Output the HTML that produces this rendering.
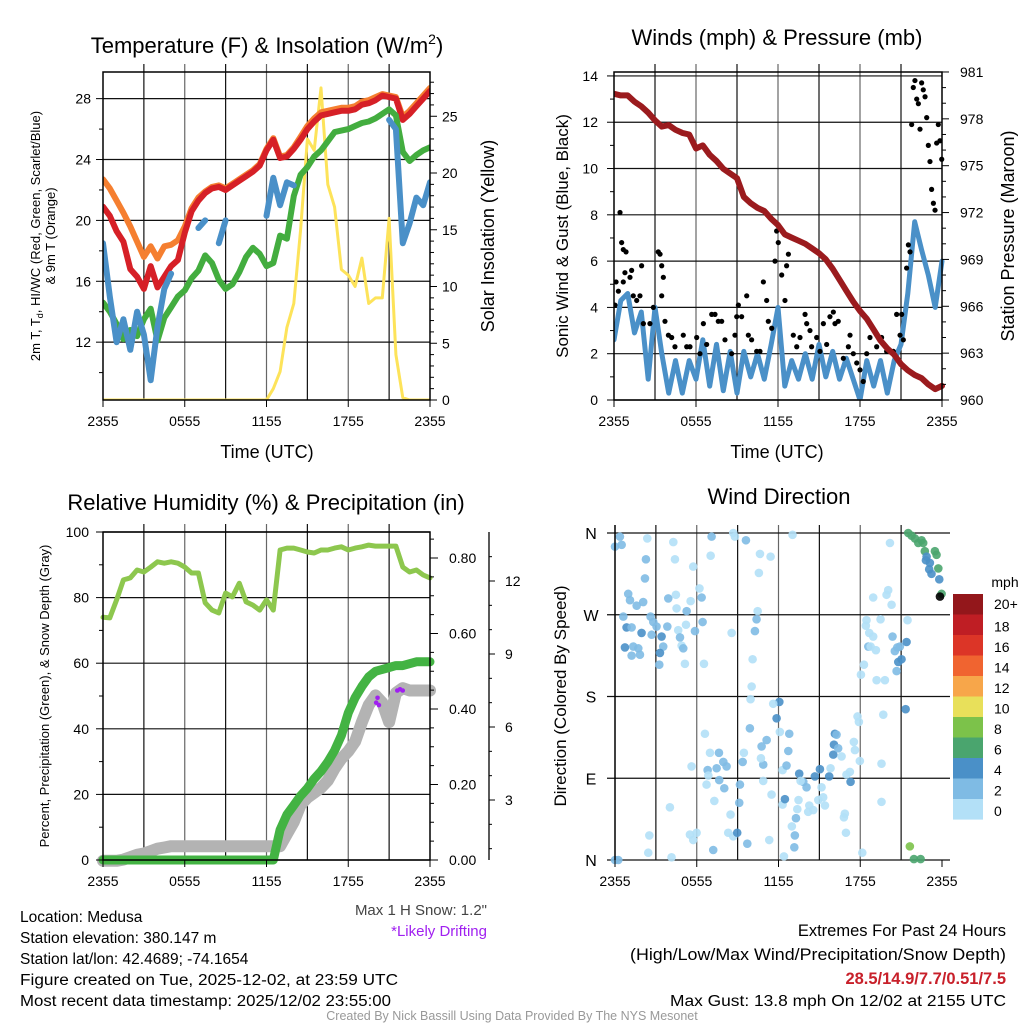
<!DOCTYPE html>
<html><head><meta charset="utf-8"><style>
html,body{margin:0;padding:0;background:#fff;}
svg{display:block;font-family:"Liberation Sans",sans-serif;}
</style></head><body>
<svg id="fig" width="1024" height="1024" viewBox="0 0 1024 1024" xmlns="http://www.w3.org/2000/svg">
<rect width="1024" height="1024" fill="#fff"/>
<g id="layer"></g>
<!-- titles & labels -->
<text x="267" y="53" font-size="22" text-anchor="middle">Temperature (F) &amp; Insolation (W/m<tspan font-size="14" dy="-9">2</tspan><tspan dy="9">)</tspan></text>
<text transform="translate(40,236) rotate(-90)" font-size="13" text-anchor="middle">2m T, T<tspan font-size="9" dy="3">d</tspan><tspan dy="-3">, HI/WC (Red, Green, Scarlet/Blue)</tspan></text>
<text transform="translate(55,236) rotate(-90)" font-size="13" text-anchor="middle">&amp; 9m T (Orange)</text>
<text transform="translate(494,236) rotate(-90)" font-size="18" text-anchor="middle">Solar Insolation (Yellow)</text>
<text x="267" y="458" font-size="18" text-anchor="middle">Time (UTC)</text>
<text x="777" y="45" font-size="22" text-anchor="middle">Winds (mph) &amp; Pressure (mb)</text>
<text transform="translate(568,236) rotate(-90)" font-size="17" text-anchor="middle">Sonic Wind &amp; Gust (Blue, Black)</text>
<text transform="translate(1014,236) rotate(-90)" font-size="18" text-anchor="middle">Station Pressure (Maroon)</text>
<text x="777" y="458" font-size="18" text-anchor="middle">Time (UTC)</text>
<text x="266" y="510" font-size="22" text-anchor="middle">Relative Humidity (%) &amp; Precipitation (in)</text>
<text transform="translate(49,696) rotate(-90)" font-size="13" text-anchor="middle">Percent, Precipitation (Green), &amp; Snow Depth (Gray)</text>
<text x="779" y="504" font-size="22" text-anchor="middle">Wind Direction</text>
<text transform="translate(566,696) rotate(-90)" font-size="17" text-anchor="middle">Direction (Colored By Speed)</text>
<text x="1005" y="587" font-size="14" text-anchor="middle">mph</text>
<text x="487" y="915" font-size="15" text-anchor="end" fill="#444">Max 1 H Snow: 1.2"</text>
<text x="487" y="936" font-size="15" text-anchor="end" fill="#a020f0">*Likely Drifting</text>
<g font-size="15.5">
<text x="20" y="922">Location: Medusa</text>
<text x="20" y="943">Station elevation: 380.147 m</text>
<text x="20" y="964">Station lat/lon: 42.4689; -74.1654</text>
<text x="20" y="985" textLength="378" lengthAdjust="spacingAndGlyphs">Figure created on Tue, 2025-12-02, at 23:59 UTC</text>
<text x="20" y="1006" textLength="371" lengthAdjust="spacingAndGlyphs">Most recent data timestamp: 2025/12/02 23:55:00</text>
</g>
<text x="1006" y="936" font-size="16.5" text-anchor="end">Extremes For Past 24 Hours</text>
<text x="1006" y="960" font-size="16.5" text-anchor="end" textLength="376" lengthAdjust="spacingAndGlyphs">(High/Low/Max Wind/Precipitation/Snow Depth)</text>
<text x="1006" y="984" font-size="16.5" font-weight="bold" fill="#c8202a" text-anchor="end">28.5/14.9/7.7/0.51/7.5</text>
<text x="1006" y="1006" font-size="15.5" text-anchor="end" textLength="336" lengthAdjust="spacingAndGlyphs">Max Gust: 13.8 mph On 12/02 at 2155 UTC</text>
<text x="512" y="1020" font-size="12.5" fill="#999" text-anchor="middle">Created By Nick Bassill Using Data Provided By The NYS Mesonet</text>
</svg>
<script>
// ---------- data (hours since 2355 UTC, 0.5 h step) ----------
const tempRed=[20.9,20.3,19.3,18.6,16.8,16.3,15.5,17.0,15.6,16.3,17.0,17.4,19.2,20.6,21.3,21.8,22.1,22.2,22.0,22.3,22.6,22.9,23.2,23.6,24.6,25.3,24.1,24.2,24.7,25.3,26.0,26.5,26.9,27.0,27.1,27.2,27.2,27.3,27.6,27.7,27.9,28.2,28.1,28.0,26.6,27.0,27.5,28.0,28.5];
const temp9m=[22.7,22.1,21.3,20.5,19.6,18.6,17.6,18.3,17.5,18.3,18.4,18.7,19.6,20.8,21.5,21.9,22.2,22.3,22.1,22.4,22.7,23.0,23.3,23.7,24.7,25.4,24.2,24.3,24.8,25.5,26.2,26.7,27.1,27.2,27.3,27.4,27.4,27.5,27.8,27.9,28.1,28.3,28.2,28.1,26.8,27.2,27.7,28.2,28.7];
const dewpoint=[14.6,14.0,13.2,12.2,12.8,12.4,13.5,14.2,12.1,13.6,14.3,15.0,15.4,16.2,16.7,17.7,17.2,16.1,15.5,15.8,16.6,17.6,18.2,17.8,17.0,17.2,19.0,18.8,21.6,23.0,23.5,24.2,24.6,25.2,25.8,25.9,26.0,26.2,26.4,26.5,26.7,27.0,27.3,26.9,24.5,23.9,24.3,24.6,24.8];
const windChill=[18.5,15.0,12.0,13.5,11.5,14.0,12.5,9.5,13.0,15.5,16.5,null,17.5,null,19.5,20.0,null,18.5,20.0,null,null,null,19.0,null,20.3,22.8,21.0,22.5,22.3,null,null,null,null,25.8,null,null,null,null,null,null,null,null,26.6,26.0,18.5,19.8,21.5,21.0,22.5];
const insolation=[0,0,0,0,0,0,0,0,0,0,0,0,0,0,0,0,0,0,0,0,0,0,0,0,0,1.0,2.5,6.4,8.5,15,23,22,27.5,19,17,11.5,11,10,12.5,8.5,9,9,16,4,0.2,0,0,0,0];
const pressure=[979.6,979.5,979.5,979.1,978.8,978.4,977.9,977.5,977.6,977.3,977.1,977.0,976.1,976.3,975.7,975.3,974.8,974.5,974.2,973.0,972.6,972.3,972.1,971.6,971.2,970.6,970.4,970.2,970.0,969.7,969.4,969.0,968.4,967.7,967.0,966.3,965.7,965.2,964.5,963.8,963.3,962.9,962.3,961.9,961.6,961.4,961.0,960.7,960.9];
const windSpeed=[2.6,4.3,4.6,2.9,3.8,0.9,4.0,2.0,0.3,1.7,0.3,1.7,0.9,2.6,0.6,2.4,0.4,2.1,0.3,2.1,1.0,2.0,0.9,2.4,4.0,0.6,1.7,0.9,2.0,0.9,2.4,1.0,2.1,0.9,1.8,0.9,0,1.7,0.6,1.7,0.3,1.7,2.4,4.6,7.7,6.5,5.4,4.0,6.0];
const gustTime=[0.07,0.15,0.32,0.44,0.56,0.68,0.88,0.68,0.80,1.17,1.29,1.41,1.66,1.90,2.02,2.15,2.63,2.88,3.24,3.37,3.49,3.61,3.49,3.73,3.98,4.22,4.46,5.07,5.32,5.56,6.05,6.29,6.54,6.78,7.15,7.39,7.63,7.88,8.12,8.61,8.85,8.98,9.10,9.34,9.71,9.83,10.07,10.44,10.68,10.93,11.17,11.29,11.54,11.78,11.90,12.02,12.27,12.51,12.63,12.76,13.12,13.37,13.61,13.98,14.10,14.34,14.46,14.83,15.07,15.32,15.56,15.80,16.05,16.17,16.41,16.78,17.15,17.27,17.51,17.76,18.00,18.24,18.49,18.73,19.22,19.58,19.95,20.44,20.68,20.93,21.05,21.17,21.41,21.54,21.66,21.78,21.90,22.02,22.15,22.27,22.39,22.51,22.63,22.76,22.88,23.00,23.12,23.24,23.37,23.49,23.61,23.73,23.85,23.98];
const gustSpeed=[4.1,5.1,4.7,8.1,6.8,6.5,6.4,5.1,5.5,5.3,5.6,4.5,4.3,4.5,5.8,3.3,3.3,4.0,6.4,6.3,5.8,5.3,4.5,3.4,2.8,2.7,2.3,2.8,2.3,2.3,2.7,2.0,3.3,2.4,3.7,3.7,3.4,3.4,2.6,2.0,2.8,3.6,4.1,3.6,4.5,2.8,2.6,2.1,2.1,5.1,4.3,3.4,3.1,6.0,7.3,6.8,5.4,4.3,5.8,6.3,2.8,2.3,2.7,3.7,3.3,3.0,2.3,2.7,2.1,3.3,2.4,3.6,3.8,3.3,3.4,1.8,2.3,2.8,2.0,1.6,1.3,0.8,2.0,2.7,2.3,2.7,2.1,2.1,3.7,2.8,3.7,2.6,5.7,6.7,6.4,11.9,13.5,13.8,13.0,12.8,11.7,13.7,13.4,13.1,12.2,11.0,10.3,9.1,8.5,8.2,11.1,11.9,11.2,10.4];
const relHum=[74,73.8,79.3,85.4,86,88.4,87.8,89.3,90.9,90.5,90.9,90.5,89.3,87.5,87.5,78.4,76.2,75.3,81.4,80.2,84.4,78.7,77.7,76.2,79.3,76.2,94.5,95.1,95.1,94.5,93.9,93.6,94.5,94.5,95.1,95.5,94.5,95.1,95.5,96,95.7,95.7,95.7,95.7,89.3,87.8,88.4,86.9,86];
const precip=[0,0,0,0,0,0,0,0,0,0,0,0,0,0,0,0,0,0,0,0,0,0,0,0,0,0,0.08,0.12,0.145,0.17,0.19,0.215,0.235,0.26,0.29,0.33,0.39,0.43,0.46,0.485,0.50,0.505,0.51,0.515,0.515,0.52,0.525,0.525,0.525];
const snowDepth=[0.5,0.5,0.5,0.55,0.65,0.75,0.8,0.9,1.0,1.05,1.1,1.1,1.1,1.1,1.1,1.1,1.1,1.1,1.1,1.1,1.1,1.1,1.1,1.1,1.1,1.1,1.1,1.6,2.1,2.8,3.1,3.3,3.5,3.8,4.3,4.7,5.0,5.4,6.2,6.9,7.3,7.0,6.2,7.4,7.6,7.5,7.5,7.5,7.5];
const driftTime=[20.05,20.15,20.25,21.6,21.8,22.0];
const driftDepth=[7.0,7.2,6.9,7.5,7.55,7.5];
const dirTime=[0.0,0.36,0.49,0,0.24,2.37,2.27,2.2,0.97,1.1,1.59,2.07,0.61,0.85,1.22,1.95,0.73,1.34,1.71,1.22,1.83,2.61,2.81,3.05,3.42,2.69,3.54,3.3,3.25,3.84,3.91,4.52,4.28,4.4,4.47,4.64,4.77,4.89,5.01,5.21,5.13,5.26,5.55,5.74,5.87,6.2,6.36,6.43,6.53,7.09,7.02,8.68,8.8,8.56,9.61,10.64,11.42,10.56,10.47,10.39,10.27,10.1,10.03,9.95,13.03,12.06,11.86,11.61,12.1,12.79,12.72,11.13,10.76,10.88,9.9,10.71,9.37,9.46,6.6,6.97,7.63,7.95,8.19,7.46,6.8,6.85,5.62,7.65,8.02,6.72,7.29,9.17,9.12,8.48,4.03,2.52,2.44,4.15,5.5,5.74,5.99,8.31,8.68,8.97,9.71,7.21,11.32,12.4,11.49,12.3,12.47,10.88,12.3,12.59,13.52,13.82,14.06,13.62,13.47,13.38,14.26,14.18,13.28,12.98,13.2,13.16,14.67,15.04,15.16,15.28,14.92,14.55,15.41,15.72,15.82,16.02,16.14,16.26,16.07,16.38,16.63,16.99,17.24,17.29,16.87,16.8,16.95,17.53,17.61,17.8,17.9,17.97,18.15,19.56,19.56,19.69,18.05,18.27,18.46,18.41,18.66,18.95,18.59,18.76,19.15,19.2,19.81,19.49,18.95,19.93,20.05,20.3,20.18,20.37,20.54,20.72,20.91,20.79,20.67,21.03,21.4,21.47,21.33,21.64,21.94,22.43,21.52,21.77,22.01,22.26,22.5,22.62,22.74,22.87,22.82,23.11,23.06,23.23,23.48,23.6,23.73,23.8,23.97,23.85];
const dirDeg=[345,356,347,0,0,354,331,310,293,286,280,284,268,256,256,250,234,235,233,225,226,268,262,257,246,248,235,228,215,257,288,277,350,331,292,253,245,236,233,259,216,274,285,323,252,299,289,262,216,356,335,360,356,250,352,337,334,316,274,265,252,221,191,177,358,174,156,172,141,139,120,132,125,105,145,112,108,118,139,118,118,108,103,101,99,93,103,88,79,83,65,83,63,50,58,27,8,3,28,22,30,30,26,30,18,11,22,4,72,61,67,87,99,104,95,86,80,87,66,56,60,53,46,37,27,14,92,100,80,69,66,55,60,92,101,116,139,138,127,123,114,94,97,86,51,47,30,130,121,158,152,109,8,106,64,160,204,215,264,258,250,246,235,235,231,198,198,265,289,292,297,281,349,246,230,234,235,218,208,221,240,264,166,15,1,1,360,357,354,349,352,349,340,334,330,327,320,315,340,336,321,309,293,290];
const dirSpeed=[3,3,2.5,2.5,2,1,3,3,3,2.5,2.5,3,2.5,4,2.5,4.5,4,3,3,2.5,2.5,2.5,3,2.5,4.5,2.5,3,4.5,3,3,3,1,1,1,1,1,3,1.5,2.5,1,1,3,1,1,3,1,2.5,3,1,2.5,1,1,1,1,3,1,1,1,1,3,3,1,1,1,1,4.5,5,1,1,3,3,3,3,3,3,1,3,1,1,1,3.5,3,3,3,3.5,1,1,3,3,1,1,3.5,3.5,1,1,1,1,1,1,1,1,1,1,4,3,3,1,1,1,1,4,1,1,3,4,3,3,1,1,1,1,1,3.5,1,3,3,4,4,1,1,1,1,1,4,1,4,4.5,3,4,3,1,1,1,4.5,1,1,1,1,1,1,1,1,1,1,1,1,1,1,1,1,1,1,3.5,1,1,1,1,1,1,1,1,1,1,3,3,3,3,4,3,4,4,1,4,8,6,6,6,7,7,7,7,6,6,4,4,4,4,4,6,6,6,4,6];
const cbLabels=["20+","18","16","14","12","10","8","6","4","2","0"];
const cbColors=["#93171b","#bf1e24","#dc3527","#f06430","#f7a64a","#e8e05a","#7cc24a","#4aa56e","#4a90c8","#7fbbe4","#b3e0f7"];
const xTickLabels=["2355","0555","1155","1755","2355"];
const tempTicks=[12,16,20,24,28];
const insoTicks=[0,5,10,15,20,25];
const windTicks=[0,2,4,6,8,10,12,14];
const presTicks=[960,963,966,969,972,975,978,981];
const rhTicks=[0,20,40,60,80,100];
const precTicks=[0,0.2,0.4,0.6,0.8];
const snowTicks=[3,6,9,12];
const dirLabels=["N","E","S","W","N"];

const NS="http://www.w3.org/2000/svg";
const layer=document.getElementById('layer');
function mk(tag,attrs,parent){const e=document.createElementNS(NS,tag);for(const k in attrs)e.setAttribute(k,attrs[k]);(parent||layer).appendChild(e);return e;}
function lin(d0,d1,r0,r1){return v=>r0+(v-d0)/(d1-d0)*(r1-r0);}
function pathOf(ts,vs,sx,sy){let d="",pen=false;for(let i=0;i<vs.length;i++){if(vs[i]===null){pen=false;continue;}d+=(pen?"L":"M")+sx(ts[i]).toFixed(1)+","+sy(vs[i]).toFixed(1);pen=true;}return d;}
const half=[];for(let i=0;i<49;i++)half.push(i*0.5);

function panelFrame(name,L,R,T,B,nv){
  const g=mk('g',{});
  
  
  for(let i=1;i<nv;i++){const x=L+(R-L)*i/nv;mk('line',{x1:x,x2:x,y1:T-8,y2:B,stroke:(i%2?'#111':'#666'),'stroke-width':1.2},g);}
  return g;
}
function hgrid(g,L,R,y){mk('line',{x1:L,x2:R,y1:y,y2:y,stroke:'#111','stroke-width':1.2},g);}
function box(name,L,R,T,B){const r=mk('rect',{x:L,y:T,width:R-L,height:B-T,fill:'none',stroke:'#000','stroke-width':1.5});}
function xticks(name,L,R,B){const g=mk('g',{'font-size':14,'text-anchor':'middle'});
  for(let i=0;i<xTickLabels.length;i++){const x=L+(R-L)*i/4;mk('line',{x1:x,x2:x,y1:B,y2:B+7,stroke:'#000'},g);const t=mk('text',{x:x,y:B+26},g);t.textContent=xTickLabels[i];}}

// ---------- Panel 1: temperature ----------
{
const L=103,R=430,T=72,B=400;
const sx=lin(0,24,L,R), sy=lin(8.2,29.75,B,T), si=lin(0,28.9,B,T);
const g=panelFrame('temperature',L,R,T,B,8);
tempTicks.forEach(v=>hgrid(g,L,R,sy(v)));
const cl=mk('clipPath',{id:'c1'});mk('rect',{x:L,y:T,width:R-L,height:B-T},cl);
const pl=mk('g',{'clip-path':'url(#c1)',fill:'none','stroke-linejoin':'round','stroke-linecap':'round'});
let p;
p=mk('path',{d:pathOf(half,insolation,sx,si),stroke:'#fde35a','stroke-width':3},pl);


p=mk('path',{d:pathOf(half,temp9m,sx,sy),stroke:'#f57f30','stroke-width':6},pl);


p=mk('path',{d:pathOf(half,tempRed,sx,sy),stroke:'#d62027','stroke-width':6},pl);


p=mk('path',{d:pathOf(half,dewpoint,sx,sy),stroke:'#43ad3f','stroke-width':6},pl);


p=mk('path',{d:pathOf(half,windChill,sx,sy),stroke:'#4a90c8','stroke-width':6},pl);


box('temperature',L,R,T,B);
const ya=mk('g',{'font-size':14,'text-anchor':'end'});


for(let v=10;v<=28;v+=2){mk('line',{x1:L-(v%4===0?7:4),x2:L,y1:sy(v),y2:sy(v),stroke:'#000'},ya);}
tempTicks.forEach(v=>{const t=mk('text',{x:L-12,y:sy(v)+5},ya);t.textContent=v;});
const yr=mk('g',{'font-size':14});


for(let v=0;v<=28;v++){mk('line',{x1:R,x2:R+(v%5===0?7:4),y1:si(v),y2:si(v),stroke:'#000'},yr);}
insoTicks.forEach(v=>{const t=mk('text',{x:R+12,y:si(v)+5},yr);t.textContent=v;});
xticks('temperature',L,R,B);
}
// ---------- Panel 2: winds ----------
{
const L=614,R=942,T=72,B=400;
const sx=lin(0,24,L,R), sy=lin(0,14.17,B,T), sp=lin(960,981.0,B,B-21*15.62);
const g=panelFrame('winds',L,R,T,B,8);
windTicks.forEach(v=>hgrid(g,L,R,sy(v)));
const cl=mk('clipPath',{id:'c2'});mk('rect',{x:L,y:T-5,width:R-L+5,height:B-T+5},cl);
const pl=mk('g',{'clip-path':'url(#c2)',fill:'none','stroke-linejoin':'round','stroke-linecap':'round'});
let p=mk('path',{d:pathOf(half,windSpeed,sx,sy),stroke:'#4a90c8','stroke-width':5},pl);


const gg=mk('g',{fill:'#000'},pl);


for(let i=0;i<gustTime.length;i++){const c=mk('circle',{cx:sx(gustTime[i]),cy:sy(gustSpeed[i]),r:2.6},gg);

}
p=mk('path',{d:pathOf(half,pressure,sx,sp),stroke:'#9b1b1e','stroke-width':6},pl);


box('winds',L,R,T,B);
const ya=mk('g',{'font-size':14,'text-anchor':'end'});


for(let v=0;v<=14;v+=1){mk('line',{x1:L-(v%2===0?7:4),x2:L,y1:sy(v),y2:sy(v),stroke:'#000'},ya);}
windTicks.forEach(v=>{const t=mk('text',{x:L-16,y:sy(v)+5},ya);t.textContent=v;});
const yr=mk('g',{'font-size':14});


for(let v=960;v<=981;v++){mk('line',{x1:R,x2:R+(v%3===0?7:4),y1:sp(v),y2:sp(v),stroke:'#000'},yr);}
presTicks.forEach(v=>{const t=mk('text',{x:R+18,y:sp(v)+5},yr);t.textContent=v;});
xticks('winds',L,R,B);
}
// ---------- Panel 3: RH ----------
{
const L=103,R=430,T=532,B=860;
const sx=lin(0,24,L,R), sy=lin(0,100,B,T), spp=lin(0,0.2,B,B-75.5), ss=lin(0,3,873,800);
const g=panelFrame('rh',L,R,T,B,8);
rhTicks.forEach(v=>hgrid(g,L,R,sy(v)));
const cl=mk('clipPath',{id:'c3'});mk('rect',{x:L-8,y:T,width:R-L+16,height:B-T+8},cl);
const pl=mk('g',{'clip-path':'url(#c3)',fill:'none','stroke-linejoin':'round','stroke-linecap':'round'});
let p=mk('path',{d:pathOf(half,snowDepth,sx,ss),stroke:'#b3b3b3','stroke-width':12},pl);


p=mk('path',{d:pathOf(half,precip,sx,spp),stroke:'#43b343','stroke-width':9},pl);


p=mk('path',{d:pathOf(half,relHum,sx,sy),stroke:'#8dc74e','stroke-width':5},pl);


const dg=mk('g',{fill:'#a020f0'},pl);


for(let i=0;i<driftTime.length;i++){const c=mk('circle',{cx:sx(driftTime[i]),cy:ss(driftDepth[i]),r:2.3},dg);

}
box('rh',L,R,T,B);
const ya=mk('g',{'font-size':14,'text-anchor':'end'});


for(let v=0;v<=100;v+=10){mk('line',{x1:L-(v%20===0?7:4),x2:L,y1:sy(v),y2:sy(v),stroke:'#000'},ya);}
rhTicks.forEach(v=>{const t=mk('text',{x:L-14,y:sy(v)+5},ya);t.textContent=v;});
const yr=mk('g',{'font-size':14});


for(let v=0;v<=0.86;v+=0.05){mk('line',{x1:R,x2:R+(Math.abs(v*10-Math.round(v*10))<0.01&&Math.round(v*10)%2===0?8:4),y1:spp(v),y2:spp(v),stroke:'#000'},yr);}
precTicks.forEach(v=>{const t=mk('text',{x:R+19,y:spp(v)+5},yr);t.textContent=v.toFixed(2);});
const ys=mk('g',{'font-size':14});


mk('line',{x1:489,x2:489,y1:T,y2:B,stroke:'#000','stroke-width':1.3},ys);
for(let v=1;v<=13;v++){mk('line',{x1:489,x2:489+(v%3===0?6:3),y1:ss(v),y2:ss(v),stroke:'#000'},ys);}
snowTicks.forEach(v=>{const t=mk('text',{x:505,y:ss(v)+5},ys);t.textContent=v;});
xticks('rh',L,R,B);
}
// ---------- Panel 4: wind direction ----------
{
const L=615,R=942,T=533,B=860;
const sx=lin(0,24,L,R), sy=lin(0,360,B,T);
const g=panelFrame('direction',L,R,T,B,8);
[0,90,180,270,360].forEach(v=>mk('line',{x1:L-8,x2:R+8,y1:sy(v),y2:sy(v),stroke:'#111','stroke-width':1.2},g));
const pl=mk('g',{'fill-opacity':0.9});


function colorFor(s){let idx=Math.min(10,Math.floor(s/2));return cbColors[10-idx];}
for(let i=0;i<dirTime.length;i++){const c=mk('circle',{cx:sx(dirTime[i]),cy:sy(dirDeg[i]),r:4.3,fill:colorFor(dirSpeed[i])},pl);

}
mk('line',{x1:L,x2:L,y1:T-8,y2:B,stroke:'#000','stroke-width':1.5});
const ya=mk('g',{'font-size':16,'text-anchor':'middle'});


dirLabels.forEach((lab,i)=>{const t=mk('text',{x:591,y:sy(i*90)+6},ya);t.textContent=lab;});
xticks('direction',L,R,B);
const cb=mk('g',{'font-size':14});


for(let i=0;i<cbColors.length;i++){const r=mk('rect',{x:953,y:594+i*20.5,width:30,height:20.6,fill:cbColors[i]},cb);


const t=mk('text',{x:994,y:609+i*20.5+(i===0?0:2)},cb);t.textContent=cbLabels[i];}
}
</script>
</body></html>
